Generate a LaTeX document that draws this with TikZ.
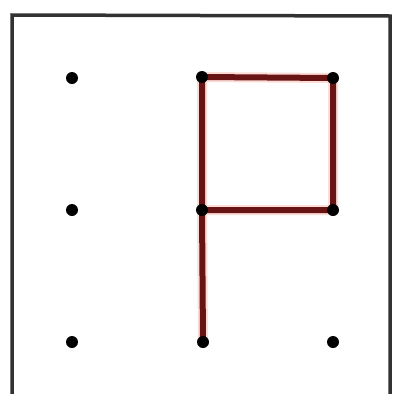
\documentclass[tikz,border=0pt]{standalone}
\definecolor{lineRed}{RGB}{105,20,20}
\definecolor{haloRed}{RGB}{252,220,215}
\definecolor{frameGray}{RGB}{50,50,50}
\begin{document}
\begin{tikzpicture}[x=1pt,y=-1pt,
  dot/.style={circle,fill=black,inner sep=0pt,minimum size=12pt},
  seg/.style={draw=lineRed,line width=6pt},
  halo/.style={draw=haloRed,line width=10pt}]
\useasboundingbox (0,0) rectangle (393,394);
\fill[white] (0,0) rectangle (393,394);
\draw[frameGray,line width=3.5pt] (12,400) -- (12,15) -- (390,16) -- (390,400);
\coordinate (a1) at (72,78);
\coordinate (a2) at (202,77);
\coordinate (a3) at (333,78);
\coordinate (b1) at (72,210);
\coordinate (b2) at (202,210);
\coordinate (b3) at (333,210);
\coordinate (c1) at (72,342);
\coordinate (c2) at (203,342);
\coordinate (c3) at (333,342);
\draw[halo] (c2) -- (b2) -- (a2) -- (a3) -- (b3) -- (b2);
\draw[seg] (c2) -- (b2) -- (a2) -- (a3) -- (b3) -- (b2);
\foreach \p in {a1,a2,a3,b1,b2,b3,c1,c2,c3}
  \node[dot] (n\p) at (\p) {};
\end{tikzpicture}
\end{document}
